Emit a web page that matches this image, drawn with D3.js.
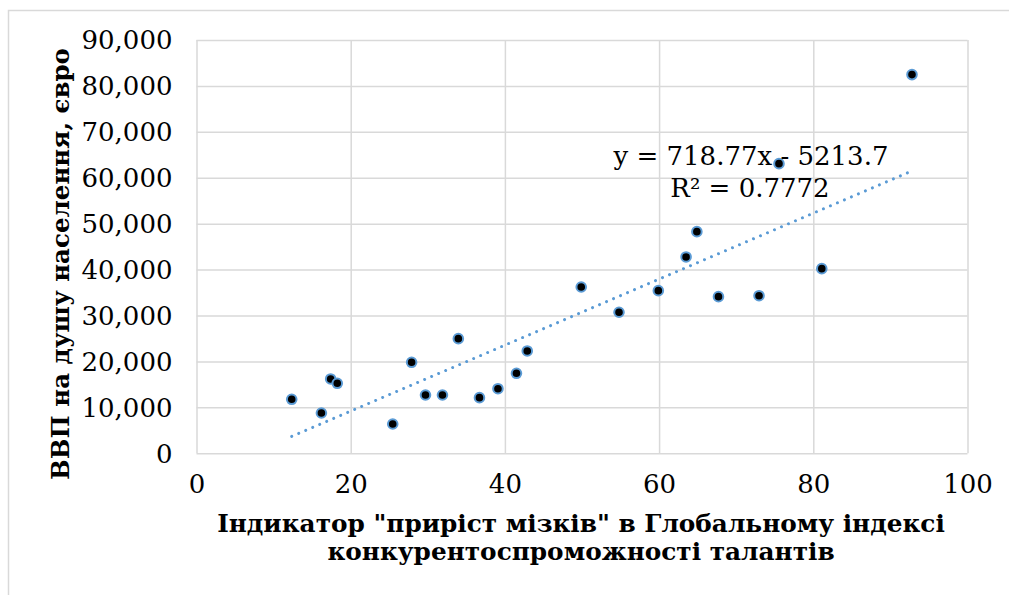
<!DOCTYPE html>
<meta charset="utf-8">
<script src="https://cdn.jsdelivr.net/npm/d3@7"></script>
<style>
body{margin:0;background:#fff;}
.domain{display:none}
.grid line{stroke:#d9d9d9;stroke-width:1.5}
.ticks text{font-family:"DejaVu Serif",serif;font-size:26px;fill:#000}
</style>
<body>
<div id="chart"></div>
<script>
// indicator "brain gain" (x) vs GDP per capita, euro (y)
var talent=[12.35,16.2,17.4,18.26,25.45,27.9,29.7,31.9,33.96,36.7,39.1,41.5,42.9,49.9,54.8,59.9,63.5,64.9,67.7,72.96,75.55,81.1,92.8];
var gdp=[11740,8760,16170,15230,6360,19800,12680,12680,24950,12100,14050,17400,22270,36200,30700,35400,42750,48260,34100,34300,63070,40200,82460];
var xTicks=[0,20,40,60,80,100];
var yTicks=[0,10000,20000,30000,40000,50000,60000,70000,80000,90000];
var slope=718.77, intercept=-5213.7;
var eqLabel="y = 718.77x - 5213.7", r2Label="R² = 0.7772";
var xTitle=["Індикатор \"приріст мізків\" в Глобальному індексі","конкурентоспроможності талантів"];
var yTitle="ВВП на душу населення, євро";

var W=1009,H=595;
var svg=d3.select("#chart").append("svg").attr("width",W).attr("height",H);

svg.append("rect").attr("x",8.5).attr("y",10.5).attr("width",1010).attr("height",600)
  .attr("fill","#fff").attr("stroke","#d9d9d9").attr("stroke-width",1.5);

var L=196.5,R=967.5,T=40,B=453.2;
var x=d3.scaleLinear().domain([0,100]).range([L,R]);
var y=d3.scaleLinear().domain([0,90000]).range([B,T]);

// grid
svg.append("g").attr("class","grid").attr("transform","translate(0,"+B+")")
  .call(d3.axisBottom(x).tickValues(xTicks).tickSize(-(B-T)).tickFormat(""));
svg.append("g").attr("class","grid").attr("transform","translate("+L+",0)")
  .call(d3.axisLeft(y).tickValues(yTicks).tickSize(-(R-L)).tickFormat(""));
svg.selectAll(".grid .domain").remove();

// tick labels
var fmt=d3.format(",");
var ax=svg.append("g").attr("class","ticks").attr("transform","translate(0,"+B+")")
  .call(d3.axisBottom(x).tickValues(xTicks).tickSize(0).tickPadding(21));
var ay=svg.append("g").attr("class","ticks").attr("transform","translate("+L+",0)")
  .call(d3.axisLeft(y).tickValues(yTicks).tickSize(0).tickPadding(24).tickFormat(fmt));
svg.selectAll(".ticks .domain").remove();
ax.selectAll("text").attr("font-family",null).attr("font-size",null);
ay.selectAll("text").attr("font-family",null).attr("font-size",null).attr("dy","0.34em");

// trendline
var x0=d3.min(talent),x1=d3.max(talent);
svg.append("line")
  .attr("x1",x(x0)).attr("y1",y(slope*x0+intercept))
  .attr("x2",x(x1)).attr("y2",y(slope*x1+intercept))
  .attr("stroke","#5b9bd5").attr("stroke-width",3)
  .attr("stroke-linecap","round").attr("stroke-dasharray","0.01,7.6");

// points
svg.append("g").selectAll("circle")
  .data(talent.map(function(d,i){return [d,gdp[i]];}))
  .enter().append("circle")
  .attr("cx",function(d){return x(d[0]);})
  .attr("cy",function(d){return y(d[1]);})
  .attr("r",4.8)
  .attr("fill","#000").attr("stroke","#5b9bd5").attr("stroke-width",2);

// equation
svg.append("text").attr("x",751).attr("y",164.5).attr("text-anchor","middle")
  .style("font-family","DejaVu Serif").style("font-size","26px").text(eqLabel);
svg.append("text").attr("x",750).attr("y",196.5).attr("text-anchor","middle")
  .style("font-family","DejaVu Serif").style("font-size","26px").text(r2Label);

// fit text to a width
function fit(t,w){
  t.style("font-size","20px");
  var len=t.node().getComputedTextLength();
  t.style("font-size",(20*w/len)+"px");
}

var t1=svg.append("text").attr("x",581).attr("y",532).attr("text-anchor","middle")
  .style("font-family","DejaVu Serif").style("font-weight","bold").text(xTitle[0]);
fit(t1,728);
var t2=svg.append("text").attr("x",581).attr("y",560).attr("text-anchor","middle")
  .style("font-family","DejaVu Serif").style("font-weight","bold")
  .style("font-size",t1.style("font-size")).text(xTitle[1]);

var t3=svg.append("text").attr("transform","translate(69,264) rotate(-90)")
  .attr("text-anchor","middle")
  .style("font-family","DejaVu Serif").style("font-weight","bold").text(yTitle);
fit(t3,432);
</script>
</body>
